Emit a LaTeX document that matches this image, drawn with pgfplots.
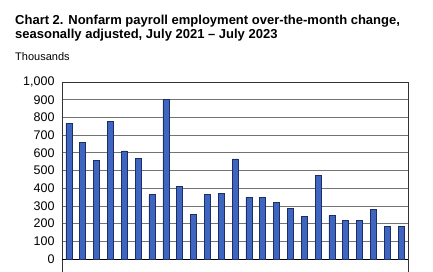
\documentclass[border=0pt]{standalone}
\usepackage{fontspec}
\setmainfont{Liberation Sans}
\usepackage{pgfplots}
\pgfplotsset{compat=1.18}
\definecolor{barblue}{RGB}{62,102,192}
\definecolor{baredge}{RGB}{30,45,100}
\begin{document}
\begin{tikzpicture}
\path[use as bounding box] (0pt,0pt) rectangle (433pt,-272pt);
\node[anchor=base west,inner sep=0pt,font=\fontsize{13}{15}\selectfont\bfseries] at (15pt,-24.5pt) {Chart 2. Nonfarm payroll employment over-the-month change,};
\node[anchor=base west,inner sep=0pt,font=\fontsize{13}{15}\selectfont\bfseries] at (15pt,-39pt) {seasonally adjusted, July 2021 -- July 2023};
\node[anchor=base west,inner sep=0pt,font=\fontsize{11}{13}\selectfont] at (15pt,-61pt) {Thousands};
\begin{axis}[
  at={(62pt,-82pt)}, anchor=north west,
  scale only axis, width=346pt, height=190pt,
  xmin=-0.5, xmax=24.5, ymin=-73.4, ymax=1000,
  axis x line*=top, axis y line*=box,
  xtick=\empty,
  ytick={0,100,...,1000},
  ymajorgrids,
  major grid style={draw=black!55, line width=0.8pt},
  axis line style={draw=black!80, line width=0.8pt},
  extra y ticks={0},
  extra y tick labels={},
  extra y tick style={grid=major, major grid style={draw=black, line width=0.9pt}},
  major tick length=0pt,
  yticklabel style={font=\fontsize{12.5}{14}\selectfont, xshift=-4pt},
  /pgf/number format/assume math mode=true,
  /pgf/number format/1000 sep={,},
  ybar, bar width=6pt,
  clip=true,
]
\addplot[fill=barblue, draw=baredge, line width=0.6pt] coordinates {
(0,765) (1,660) (2,556) (3,778) (4,611) (5,568) (6,363) (7,900) (8,412)
(9,252) (10,363) (11,370) (12,566) (13,350) (14,346) (15,321) (16,288)
(17,239) (18,472) (19,246) (20,216) (21,216) (22,280) (23,184) (24,184)
};
\end{axis}
\end{tikzpicture}
\end{document}
